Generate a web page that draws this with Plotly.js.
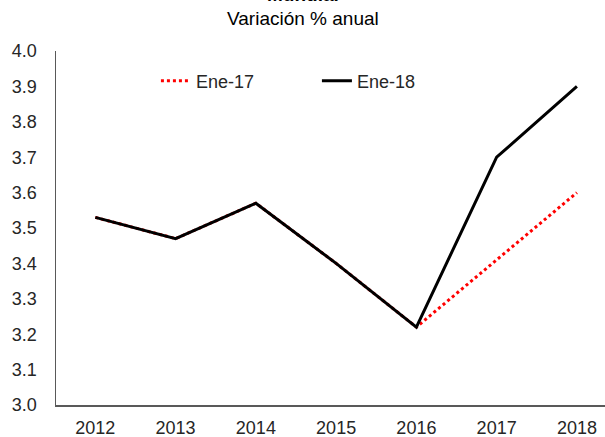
<!DOCTYPE html>
<html>
<head>
<meta charset="utf-8">
<script src="https://cdn.plot.ly/plotly-3.0.1.min.js"></script>
<style>html,body{margin:0;padding:0;background:#fff;}#chart{width:605px;height:437px;}</style>
</head>
<body>
<div id="chart"></div>
<script>
const years = ["2012", "2013", "2014", "2015", "2016", "2017", "2018"];
const ene17 = [3.53, 3.47, 3.57, 3.40, 3.22, 3.41, 3.60];
const ene18 = [3.53, 3.47, 3.57, 3.40, 3.22, 3.70, 3.90];
const seriesNames = ["Ene-17", "Ene-18"];
const titleMain = "<b>Mundial</b>";
const titleSub = "Variación % anual";

const traces = [
  {x: years, y: ene17, name: seriesNames[0], type: "scatter", mode: "lines",
   line: {color: "#FF0000", width: 3, dash: "dot"}},
  {x: years, y: ene18, name: seriesNames[1], type: "scatter", mode: "lines",
   line: {color: "#000000", width: 3}}
];

const layout = {
  width: 605, height: 437,
  margin: {l: 56, r: 0, t: 51, b: 32, pad: 0},
  paper_bgcolor: "#ffffff", plot_bgcolor: "#ffffff",
  font: {family: "Liberation Sans, Arial, sans-serif", size: 18, color: "#262626"},
  showlegend: true,
  legend: {orientation: "h", x: 0.182, y: 0.915, xanchor: "left", yanchor: "middle",
    font: {size: 18, color: "#262626"}, itemwidth: 30, entrywidth: 116, entrywidthmode: "pixels",
    bgcolor: "rgba(0,0,0,0)", traceorder: "normal"},
  xaxis: {type: "category", range: [-0.49, 6.35], showgrid: false, zeroline: false,
    showline: true, linecolor: "#595959", linewidth: 1.5, ticks: "", ticklabelstandoff: 6,
    tickfont: {size: 18}, fixedrange: true},
  yaxis: {range: [3.0, 4.0], dtick: 0.1, tickformat: ".1f", showgrid: false, zeroline: false,
    showline: true, linecolor: "#595959", linewidth: 1.5, ticks: "", ticklabelstandoff: 14,
    tickfont: {size: 18}, fixedrange: true},
  annotations: [
    {text: titleMain, xref: "paper", yref: "paper", x: 0.45, y: 1.0, yshift: 44, xanchor: "center", yanchor: "bottom",
     showarrow: false, font: {size: 19, color: "#000"}},
    {text: titleSub, xref: "paper", yref: "paper", x: 0.45, y: 1.0, yshift: 33, xanchor: "center", yanchor: "middle",
     showarrow: false, font: {size: 19, color: "#000"}}
  ]
};

Plotly.newPlot("chart", traces, layout, {staticPlot: true, displayModeBar: false});
</script>
</body>
</html>
